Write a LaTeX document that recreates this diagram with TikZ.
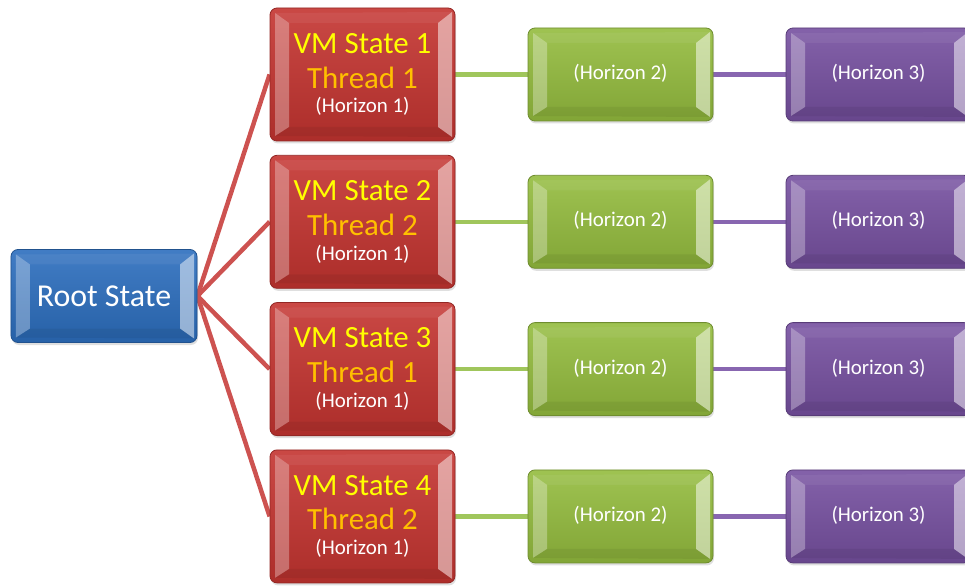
\documentclass[tikz,border=0pt]{standalone}
\usepackage{fontspec}
\setmainfont{Carlito}
\usetikzlibrary{shadows,backgrounds}

\definecolor{rootblue}{RGB}{44,110,190}
\definecolor{vmred}{RGB}{196,52,48}
\definecolor{hgreen}{RGB}{148,188,62}
\definecolor{hpurple}{RGB}{118,80,160}
\definecolor{vmyellow}{RGB}{255,255,0}
\definecolor{vmorange}{RGB}{255,192,0}
\definecolor{redline}{RGB}{205,82,80}
\definecolor{greenline}{RGB}{160,198,92}
\definecolor{purpleline}{RGB}{136,102,176}

\tikzset{
  bevel/.style={path picture={
    \fill[sharp corners,white,opacity=0.3]
      ([xshift=5bp,yshift=-5bp]path picture bounding box.north west) --
      ([xshift=19bp,yshift=-15bp]path picture bounding box.north west) --
      ([xshift=19bp,yshift=14bp]path picture bounding box.south west) --
      ([xshift=5bp,yshift=5bp]path picture bounding box.south west) -- cycle;
    \fill[sharp corners,white,opacity=0.5]
      ([xshift=-3bp,yshift=-4bp]path picture bounding box.north east) --
      ([xshift=-17bp,yshift=-15bp]path picture bounding box.north east) --
      ([xshift=-17bp,yshift=14bp]path picture bounding box.south east) --
      ([xshift=-3bp,yshift=4bp]path picture bounding box.south east) -- cycle;
    \fill[sharp corners,black,opacity=0.06]
      ([xshift=5bp,yshift=5bp]path picture bounding box.south west) --
      ([xshift=19bp,yshift=14bp]path picture bounding box.south west) --
      ([xshift=-17bp,yshift=14bp]path picture bounding box.south east) --
      ([xshift=-3bp,yshift=4bp]path picture bounding box.south east) -- cycle;
    \fill[sharp corners,white,opacity=0.06]
      ([xshift=5bp,yshift=-5bp]path picture bounding box.north west) --
      ([xshift=19bp,yshift=-15bp]path picture bounding box.north west) --
      ([xshift=-17bp,yshift=-15bp]path picture bounding box.north east) --
      ([xshift=-3bp,yshift=-4bp]path picture bounding box.north east) -- cycle;
  }},
  box/.style={rounded corners=7bp, draw=#1!75!black, line width=0.8bp,
    top color=#1!90!white, bottom color=#1!88!black, bevel,
    drop shadow={opacity=0.25,shadow xshift=1bp,shadow yshift=-2.5bp},
    minimum width=185bp, minimum height=93bp, inner sep=0pt,
    align=center, text=white, font=\fontsize{21}{25}\selectfont},
  link/.style={line width=4.5bp, draw=#1}
}

\begin{document}
\begin{tikzpicture}[x=1bp,y=-1bp]
  \useasboundingbox (0,0) rectangle (965,586);
  \node[box=rootblue, minimum width=186bp] (root) at (104,296)
    {\fontsize{32}{38}\selectfont Root State};
  \foreach \i/\t in {1/1,2/2,3/1,4/2} {
    \pgfmathsetmacro{\y}{74.5+147.3*(\i-1)}
    \node[box=vmred, minimum height=133bp] (vm\i) at (362.5,\y)
      {\fontsize{31}{35}\selectfont\color{vmyellow}VM State \i\\[10bp]
       \fontsize{31}{35}\selectfont\color{vmorange}Thread \t\\[0bp]
       (Horizon 1)};
    \node[box=hgreen] (hz\i) at (620.5,\y) {\raisebox{5bp}{(Horizon 2)}};
    \node[box=hpurple] (hp\i) at (878.5,\y) {\raisebox{5bp}{(Horizon 3)}};
    \begin{scope}[on background layer]
      \draw[link=redline] (root.east) -- (vm\i.west);
      \draw[link=greenline] (vm\i.east) -- (hz\i.west);
      \draw[link=purpleline] (hz\i.east) -- (hp\i.west);
    \end{scope}
  }
\end{tikzpicture}
\end{document}
